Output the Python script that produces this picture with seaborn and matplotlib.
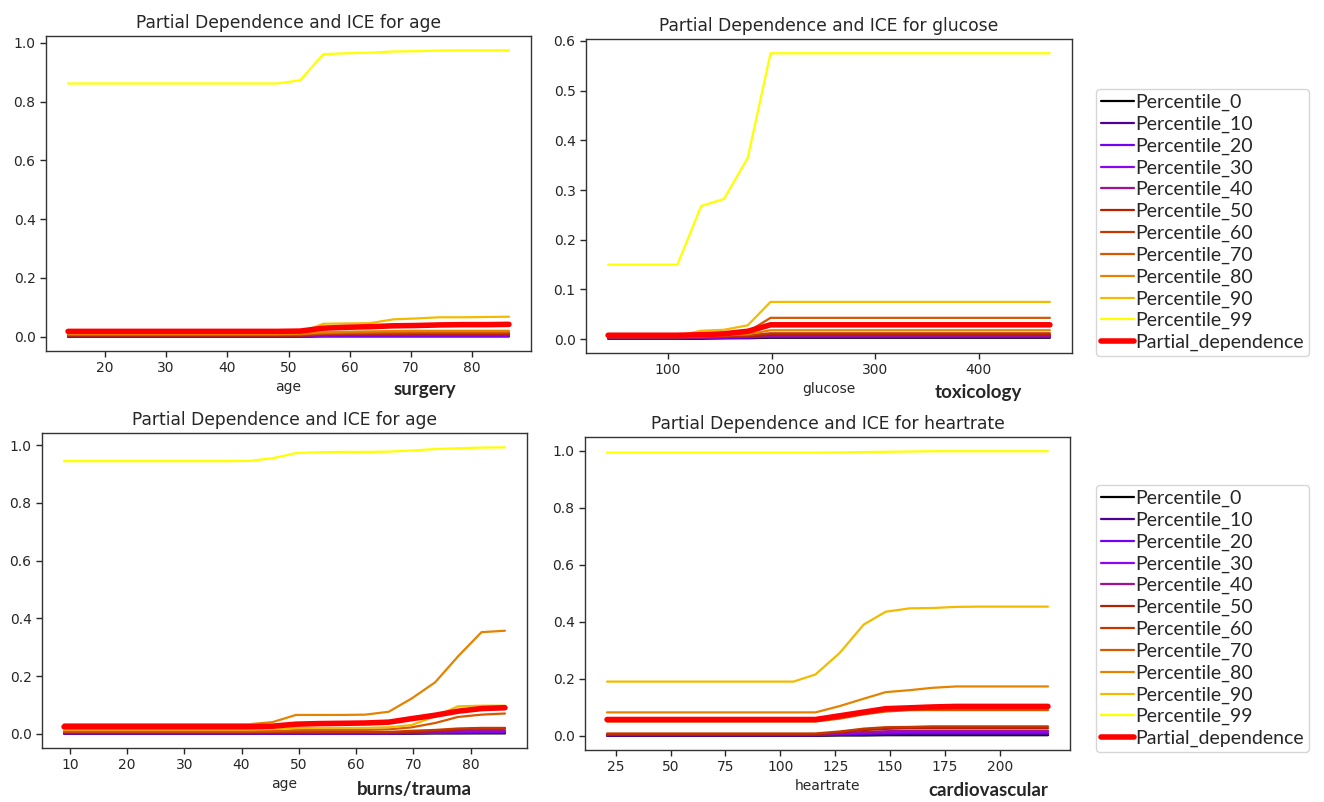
import numpy as np
import matplotlib
matplotlib.use("Agg")
import matplotlib.pyplot as plt
import seaborn as sns
from matplotlib.ticker import FixedLocator
from matplotlib.font_manager import FontProperties

sns.set_theme(style="ticks")
plt.rcParams['font.family'] = ['DejaVu Sans']

series_names = ['Percentile_0', 'Percentile_10', 'Percentile_20', 'Percentile_30',
                'Percentile_40', 'Percentile_50', 'Percentile_60', 'Percentile_70',
                'Percentile_80', 'Percentile_90', 'Percentile_99', 'Partial_dependence']

# --- surgery: age ---
age_surgery = [14, 17.8, 21.6, 25.4, 29.2, 32.9, 36.7, 40.5, 44.3, 48.1,
               51.9, 55.7, 59.5, 63.3, 67.1, 70.8, 74.6, 78.4, 82.2, 86]
surgery_p0 = [0.0] * 11 + [0.001] * 9
surgery_p10 = [0.001] * 11 + [0.002] * 9
surgery_p20 = [0.001] * 11 + [0.003] * 9
surgery_p30 = [0.002] * 11 + [0.004] * 9
surgery_p40 = [0.003] * 11 + [0.005, 0.006, 0.006, 0.006, 0.006, 0.006, 0.006, 0.006, 0.006]
surgery_p50 = [0.004] * 11 + [0.007, 0.008, 0.009, 0.009, 0.01, 0.01, 0.01, 0.01, 0.01]
surgery_p60 = [0.005] * 11 + [0.009, 0.01, 0.011, 0.011, 0.012, 0.012, 0.012, 0.012, 0.012]
surgery_p70 = [0.007] * 10 + [0.008, 0.012, 0.013, 0.014, 0.015, 0.015, 0.015, 0.015, 0.015, 0.015]
surgery_p80 = [0.009] * 10 + [0.01, 0.015, 0.017, 0.018, 0.019, 0.02, 0.02, 0.02, 0.02, 0.02]
surgery_p90 = [0.012] * 10 + [0.014, 0.044, 0.045, 0.046, 0.059, 0.062, 0.066, 0.066, 0.067, 0.068]
surgery_p99 = [0.862] * 10 + [0.873, 0.962, 0.965, 0.967, 0.971, 0.972, 0.974, 0.975, 0.975, 0.975]
surgery_pd = [0.018] * 10 + [0.019, 0.029, 0.032, 0.034, 0.037, 0.038, 0.04, 0.041, 0.041, 0.042]

# --- toxicology: glucose ---
glucose_tox = [42, 64, 87, 109, 132, 154, 177, 199, 222, 244,
               267, 289, 312, 334, 357, 379, 402, 424, 446, 469]
tox_p0 = [0.001, 0.001, 0.001, 0.001, 0.001, 0.002, 0.002] + [0.003] * 13
tox_p10 = [0.002, 0.002, 0.002, 0.002, 0.002, 0.002, 0.003] + [0.004] * 13
tox_p20 = [0.002, 0.002, 0.002, 0.002, 0.003, 0.003, 0.004] + [0.005] * 13
tox_p30 = [0.003, 0.003, 0.003, 0.003, 0.003, 0.004, 0.004] + [0.006] * 13
tox_p40 = [0.003, 0.003, 0.003, 0.003, 0.004, 0.004, 0.005] + [0.007] * 13
tox_p50 = [0.004, 0.004, 0.004, 0.004, 0.004, 0.005, 0.006] + [0.009] * 13
tox_p60 = [0.004, 0.004, 0.004, 0.004, 0.005, 0.006, 0.008] + [0.012] * 13
tox_p70 = [0.005, 0.005, 0.005, 0.005, 0.006, 0.008, 0.015] + [0.043] * 13
tox_p80 = [0.005, 0.005, 0.005, 0.005, 0.006, 0.008, 0.01] + [0.018] * 13
tox_p90 = [0.007, 0.007, 0.007, 0.007, 0.017, 0.019, 0.028] + [0.075] * 13
tox_p99 = [0.15, 0.15, 0.15, 0.15, 0.268, 0.282, 0.365] + [0.575] * 13
tox_pd = [0.008, 0.008, 0.008, 0.008, 0.009, 0.011, 0.016] + [0.029] * 13

# --- burns/trauma: age ---
age_burns = [9, 13, 17.1, 21.1, 25.2, 29.2, 33.3, 37.3, 41.4, 45.4,
             49.5, 53.5, 57.6, 61.6, 65.7, 69.7, 73.8, 77.8, 81.9, 86]
burns_p0 = [0.0] * 15 + [0.0, 0.001, 0.001, 0.001, 0.001]
burns_p10 = [0.001] * 15 + [0.001, 0.002, 0.002, 0.003, 0.003]
burns_p20 = [0.001] * 15 + [0.002, 0.003, 0.004, 0.005, 0.005]
burns_p30 = [0.002] * 15 + [0.003, 0.005, 0.007, 0.008, 0.008]
burns_p40 = [0.003] * 15 + [0.004, 0.007, 0.01, 0.012, 0.012]
burns_p50 = [0.004] * 15 + [0.006, 0.01, 0.015, 0.018, 0.018]
burns_p60 = [0.006] * 15 + [0.01, 0.013, 0.018, 0.02, 0.02]
burns_p70 = [0.008] * 9 + [0.009, 0.012, 0.013, 0.013, 0.013, 0.015, 0.022, 0.037, 0.058, 0.066, 0.07]
burns_p80 = [0.033] * 9 + [0.04, 0.065, 0.065, 0.065, 0.066, 0.076, 0.122, 0.178, 0.268, 0.352, 0.357]
burns_p90 = [0.015] * 9 + [0.016, 0.02, 0.02, 0.02, 0.02, 0.022, 0.03, 0.06, 0.095, 0.097, 0.097]
burns_p99 = [0.945] * 8 + [0.946, 0.955, 0.973, 0.976, 0.977, 0.977, 0.978, 0.982, 0.987, 0.99, 0.992, 0.993]
burns_pd = [0.024] * 9 + [0.026, 0.033, 0.035, 0.036, 0.037, 0.04, 0.052, 0.064, 0.078, 0.087, 0.09]

# --- cardiovascular: heartrate ---
heartrate_cardio = [21, 32, 42, 53, 63, 74, 85, 95, 106, 116,
                    127, 138, 148, 159, 169, 180, 191, 201, 212, 222]
cardio_p0 = [0.0] * 10 + [0.001, 0.001, 0.002] + [0.002] * 7
cardio_p10 = [0.001] * 10 + [0.003, 0.004, 0.005] + [0.006] * 7
cardio_p20 = [0.002] * 10 + [0.005, 0.007, 0.009] + [0.01] * 7
cardio_p30 = [0.003] * 10 + [0.007, 0.01, 0.012] + [0.014] * 7
cardio_p40 = [0.004] * 10 + [0.009, 0.013, 0.016] + [0.018] * 7
cardio_p50 = [0.006] * 10 + [0.012, 0.02, 0.024] + [0.027] * 7
cardio_p60 = [0.008] * 10 + [0.015, 0.025, 0.03, 0.031] + [0.033] * 6
cardio_p70 = [0.05] * 10 + [0.06, 0.075, 0.085] + [0.09] * 7
cardio_p80 = [0.082] * 10 + [0.104, 0.13, 0.153, 0.16, 0.168] + [0.173] * 5
cardio_p90 = [0.19] * 9 + [0.215, 0.29, 0.39, 0.435, 0.447, 0.448, 0.452] + [0.453] * 4
cardio_p99 = [0.993] * 10 + [0.994, 0.995, 0.996, 0.997] + [0.998] * 6
cardio_pd = [0.057] * 10 + [0.07, 0.083, 0.095, 0.098, 0.101] + [0.103] * 5

# x tick labels shown per panel
ticks_surgery = [20, 30, 40, 50, 60, 70, 80]
ticks_tox = [100, 200, 300, 400]
ticks_burns = [10, 20, 30, 40, 50, 60, 70, 80]
ticks_cardio = [25, 50, 75, 100, 125, 150, 175, 200]

panels = [
    ('age', 'Partial Dependence and ICE for age', age_surgery,
     [surgery_p0, surgery_p10, surgery_p20, surgery_p30, surgery_p40, surgery_p50,
      surgery_p60, surgery_p70, surgery_p80, surgery_p90, surgery_p99, surgery_pd], ticks_surgery),
    ('glucose', 'Partial Dependence and ICE for glucose', glucose_tox,
     [tox_p0, tox_p10, tox_p20, tox_p30, tox_p40, tox_p50,
      tox_p60, tox_p70, tox_p80, tox_p90, tox_p99, tox_pd], ticks_tox),
    ('age', 'Partial Dependence and ICE for age', age_burns,
     [burns_p0, burns_p10, burns_p20, burns_p30, burns_p40, burns_p50,
      burns_p60, burns_p70, burns_p80, burns_p90, burns_p99, burns_pd], ticks_burns),
    ('heartrate', 'Partial Dependence and ICE for heartrate', heartrate_cardio,
     [cardio_p0, cardio_p10, cardio_p20, cardio_p30, cardio_p40, cardio_p50,
      cardio_p60, cardio_p70, cardio_p80, cardio_p90, cardio_p99, cardio_pd], ticks_cardio),
]

# axes boxes in pixels: left, top, right, bottom
W, H = 1324, 802
boxes = [(46, 36, 531, 351), (586, 39, 1072, 353),
         (42, 433, 527, 748), (585, 437, 1070, 750)]

colors = plt.cm.gnuplot(np.linspace(0, 1, 11))

fig = plt.figure(figsize=(W / 100, H / 100), dpi=100)
axes = []
for (feat, title, x, curves, ticks), (l, t, r, b) in zip(panels, boxes):
    ax = fig.add_axes([l / W, 1 - b / H, (r - l) / W, (b - t) / H])
    for name, col, vals in zip(series_names[:-1], colors, curves[:-1]):
        sns.lineplot(x=x, y=vals, ax=ax, color=col, lw=1.6, label=name)
    sns.lineplot(x=x, y=curves[-1], ax=ax, color='red', lw=4, label=series_names[-1])
    ax.set_title(title, fontsize=12.3, pad=6)
    ax.set_xlabel(feat, fontsize=10, labelpad=3)
    ax.set_ylabel('')
    ax.xaxis.set_major_locator(FixedLocator(ticks))
    ax.tick_params(labelsize=10, length=4, width=1)
    for s in ax.spines.values():
        s.set_linewidth(1.0)
        s.set_color('#333333')
    ax.get_legend().remove()
    axes.append(ax)

leg_font = FontProperties(family='Lato', size=14)
for ax, top in [(axes[1], 89), (axes[3], 485)]:
    ax.legend(loc='upper left', bbox_to_anchor=(1096 / W, 1 - top / H),
              bbox_transform=fig.transFigure, prop=leg_font, handlelength=1.7,
              handletextpad=0.08, labelspacing=0.235, borderpad=0.25,
              borderaxespad=0, frameon=True, edgecolor='#cccccc', fancybox=True)

bold_font = dict(family='Lato', size=13.5, fontweight='bold', va='center', ha='left')
fig.text(394 / W, 1 - 390 / H, 'surgery', **bold_font)
fig.text(935 / W, 1 - 393 / H, 'toxicology', **bold_font)
fig.text(357 / W, 1 - 790 / H, 'burns/trauma', **bold_font)
fig.text(928 / W, 1 - 791 / H, 'cardiovascular', **bold_font)

fig.savefig('out.png', dpi=100)
